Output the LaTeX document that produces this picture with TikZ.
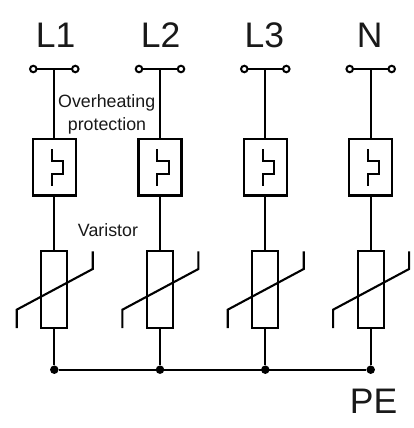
\documentclass[tikz,border=0pt]{standalone}
\usepackage{fontspec}
\setmainfont{Liberation Sans}
\usetikzlibrary{positioning}
\definecolor{inkgray}{gray}{0.1}
\tikzset{
	terminal/.style={
		circle,
		draw,
		fill=white,
		line width=2pt,
		inner sep=0pt,
		outer sep=0pt,
		minimum size=6.5pt
	},
	protectbox/.style={
		rectangle,
		draw,
		line width=2.1pt,
		outer sep=0pt,
		minimum width=43pt,
		minimum height=56.5pt
	},
	varistorbox/.style={
		rectangle,
		draw,
		line width=2.1pt,
		outer sep=0pt,
		minimum width=26pt,
		minimum height=76.5pt
	},
	junction/.style={
		circle,
		fill,
		inner sep=0pt,
		outer sep=0pt,
		minimum size=8.5pt
	},
	phase/.style={anchor=base, inner sep=0pt, text=inkgray, font=\fontsize{35.5}{35.5}\selectfont},
	note/.style={anchor=base, inner sep=0pt, text=inkgray, font=\fontsize{17.8}{17.8}\selectfont},
	wire/.style={line width=2.1pt}
}

\begin{document}
\begin{tikzpicture}[x=1pt, y=-1pt]
	\useasboundingbox (0,0) rectangle (414,428);
	\foreach \x/\n/\lx/\lab in {54.3/1/55.7/L1, 160/2/160.7/L2, 265.3/3/264.3/L3, 370.7/4/369.7/N} {
		\node [phase] (label\n) at (\lx,48) {\lab};
		\coordinate (tap\n) at (\x,69);
		\node [terminal] (inleft\n) at (\x-21,69) {};
		\node [terminal] (inright\n) at (\x+21,69) {};
		\node [protectbox] (protect\n) at (\x,167.25) {};
		\node [varistorbox] (varistor\n) at (\x,289.5) {};
		\node [junction] (dot\n) at (\x,369.7) {};
		\draw [wire] (inleft\n) -- (inright\n);
		\draw [wire] (tap\n) -- (protect\n.north);
		\draw [wire] (protect\n.south) -- (varistor\n.north);
		\draw [wire] (varistor\n.south) -- (dot\n);
		% thermal contact
		\draw [wire] (\x-2.7,149) -- (\x-2.7,161) -- (\x+8.7,161) -- (\x+8.7,174) -- (\x-2.7,174) -- (\x-2.7,185.5);
		% varistor slash
		\draw [wire] (\x-37.6,328) -- (\x-37.6,309.7) -- (\x+38.4,269) -- (\x+38.4,251.3);
	}
	\draw [wire] (dot1) -- (dot4);
	\node [note] (overheating) at (106.7,107.7) {Overheating};
	\node [note] (protection) at (107,130) {protection};
	\node [note] (varistor) at (108,236) {Varistor};
	\node [phase] (pe) at (373.5,413.3) {PE};
\end{tikzpicture}
\end{document}
